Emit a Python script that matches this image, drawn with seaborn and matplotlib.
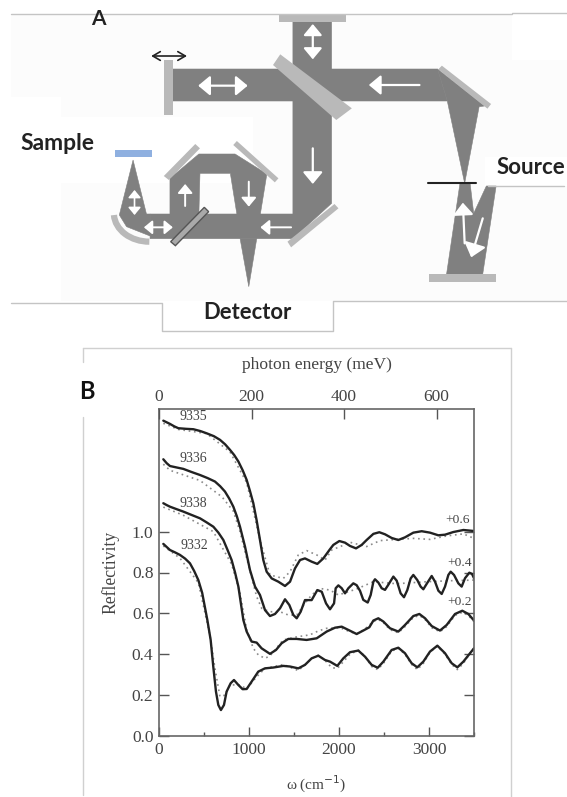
import numpy as np
import pandas as pd
import matplotlib
matplotlib.use('Agg')
import matplotlib.pyplot as plt
import seaborn as sns
from matplotlib.patches import Polygon, Rectangle, FancyArrowPatch, Arc
from matplotlib.lines import Line2D

# --- reflectivity curves (with the offsets already added) ---
x_9335 = [48,85,122,170,215,300,382,460,530,610,678,735,789,835,882,930,974,1010,1048,1085,1122,1159,1196,1252,1326,1400,1456,1511,1567,1622,1696,1759,1826,1900,1937,2004,2067,2122,2189,2252,2307,2382,2448,2511,2585,2659,2733,2826,2919,3011,3104,3178,3270,3382,3500]
y_9335 = [1.543,1.535,1.527,1.515,1.506,1.503,1.501,1.492,1.481,1.467,1.449,1.427,1.400,1.375,1.343,1.300,1.253,1.200,1.139,1.055,.959,.861,.804,.771,.755,.734,.755,.820,.861,.869,.853,.842,.869,.914,.935,.954,.946,.930,.918,.935,.959,.989,.997,.987,.969,.959,.972,.995,1.002,.995,.982,.985,.998,1.008,1.003]
x_9336 = [48,85,122,195,270,360,456,540,622,680,733,780,826,865,900,956,1011,1067,1122,1178,1233,1289,1345,1400,1448,1493,1530,1574,1622,1696,1759,1808,1856,1900,1945,1963,1993,2030,2067,2104,2159,2196,2233,2270,2319,2352,2382,2400,2437,2474,2511,2548,2604,2641,2685,2722,2759,2796,2826,2870,2907,2937,2982,3030,3067,3104,3141,3178,3215,3241,3278,3326,3363,3400,3448,3478,3500]
y_9336 = [1.354,1.335,1.321,1.314,1.307,1.292,1.277,1.262,1.245,1.222,1.196,1.162,1.122,1.075,1.024,.926,.812,.731,.690,.616,.587,.597,.625,.669,.641,.592,.576,.608,.665,.665,.714,.706,.649,.620,.649,.723,.737,.723,.698,.723,.747,.738,.711,.666,.653,.690,.755,.767,.751,.723,.715,.740,.780,.760,.698,.679,.714,.771,.788,.763,.731,.718,.750,.783,.755,.711,.695,.731,.788,.804,.788,.747,.731,.772,.799,.793,.772]
x_9338 = [48,85,122,195,270,360,456,530,604,660,715,760,807,845,882,937,974,1029,1085,1140,1233,1300,1363,1437,1529,1640,1752,1863,1956,2030,2104,2196,2270,2337,2382,2437,2493,2567,2659,2733,2826,2893,2956,3030,3122,3196,3289,3370,3437,3500]
y_9338 = [1.139,1.130,1.122,1.110,1.098,1.082,1.065,1.045,1.024,.995,.959,.912,.861,.800,.731,.568,.511,.462,.457,.429,.402,.421,.454,.475,.475,.470,.478,.511,.530,.535,.519,.499,.516,.532,.565,.576,.560,.527,.511,.543,.587,.597,.576,.538,.516,.543,.597,.613,.597,.565]
x_9332 = [48,85,122,180,233,290,344,390,437,480,537,574,603,633,659,688,722,751,796,833,881,929,974,1029,1103,1177,1270,1381,1455,1548,1622,1696,1770,1844,1900,1981,2048,2122,2215,2289,2363,2430,2493,2585,2659,2733,2807,2870,2937,3011,3093,3178,3252,3315,3382,3456,3500]
y_9332 = [.940,.925,.910,.898,.886,.868,.845,.808,.763,.700,.568,.470,.340,.217,.152,.127,.152,.217,.258,.274,.250,.229,.230,.266,.315,.331,.335,.343,.340,.331,.348,.380,.393,.372,.364,.343,.380,.410,.418,.388,.348,.334,.364,.421,.432,.405,.356,.336,.364,.413,.442,.405,.356,.336,.364,.405,.429]

# --- fits (dotted) ---
fx_9335 = [48,215,530,789,974,1122,1233,1381,1456,1548,1641,1752,1845,1919,2030,2122,2307,2456,2641,2826,3011,3196,3382,3500]
fy_9335 = [1.53,1.50,1.48,1.39,1.24,.96,.788,.771,.804,.886,.907,.886,.861,.91,.93,.948,.927,.956,.962,.967,.962,.979,.989,.967]
fx_9336 = [48,122,456,700,826,900,974,1085,1141,1233,1345,1437,1530,1622,1696,1789,1900,1993,2200,2382,2640,2982,3250,3500]
fy_9336 = [1.33,1.30,1.25,1.17,1.10,1.00,.87,.682,.625,.608,.608,.592,.592,.649,.690,.722,.714,.690,.72,.755,.745,.755,.76,.763]
fx_9338 = [48,270,604,807,900,974,1048,1103,1177,1233,1380,1530,1677,1770,1863,2011,2122,2200,2290,2382,2437,2493,2567,2659,2733,2826,2893,2956,3030,3122,3196,3289,3370,3437,3500]
fy_9338 = [1.12,1.08,1.00,.84,.70,.52,.429,.397,.380,.392,.47,.485,.495,.514,.527,.53,.51,.50,.525,.56,.57,.555,.52,.505,.535,.58,.59,.57,.53,.51,.535,.59,.605,.59,.56]
fx_9332 = [48,233,437,567,622,677,733,789,900,974,1085,1177,1381,1548,1700,1770,1844,1918,1981,2122,2215,2289,2363,2430,2493,2585,2659,2733,2807,2870,2937,3011,3093,3178,3252,3315,3382,3456,3500]
fy_9332 = [.93,.87,.75,.49,.33,.193,.20,.25,.25,.23,.29,.33,.35,.32,.38,.395,.37,.335,.33,.40,.42,.39,.34,.325,.355,.415,.43,.40,.35,.325,.355,.41,.44,.40,.35,.325,.355,.405,.43]

curve_labels = ['9335', '9336', '9338', '9332']
offset_labels = ['+0.6', '+0.4', '+0.2']
W, H = 567, 797

sns.set_style('white')
plt.rcParams['font.family'] = ['Liberation Serif', 'DejaVu Serif']
fig = plt.figure(figsize=(W / 100, H / 100), dpi=100)

# --- panel B ---
ax = fig.add_axes([159 / W, 1 - 736 / H, 315 / W, 327 / H])
for xs, ys in [(fx_9335, fy_9335), (fx_9336, fy_9336), (fx_9338, fy_9338), (fx_9332, fy_9332)]:
    sns.lineplot(x=xs, y=ys, ax=ax, color='#8a8a8a', lw=1.2, ls=(0, (1, 2.2)), errorbar=None, sort=False)
for xs, ys in [(x_9335, y_9335), (x_9336, y_9336), (x_9338, y_9338), (x_9332, y_9332)]:
    sns.lineplot(x=xs, y=ys, ax=ax, color='#222222', lw=1.7, errorbar=None, sort=False, solid_joinstyle='round')

ax.set_xlim(0, 3500)
ax.set_ylim(0, 1.6)
ax.set_xticks([0, 1000, 2000, 3000])
ax.set_xticks([500, 1500, 2500, 3500], minor=True)
ax.set_yticks([0, .2, .4, .6, .8, 1.0])
ax.tick_params(axis='x', which='major', direction='in', length=6.5, width=1, color='#555555', labelcolor='#444444', labelsize=12.5, pad=4)
ax.tick_params(axis='x', which='minor', direction='in', length=3, width=1, color='#555555')
ax.tick_params(axis='y', direction='in', length=7, width=1, color='#555555', labelcolor='#444444', labelsize=12.5, right=True, left=True, pad=4)
ax.set_xlabel('ω (cm$^{-1}$)', fontsize=11, color='#444444', labelpad=12)
ax.set_ylabel('Reflectivity', fontsize=12.7, color='#444444', labelpad=9)
for s in ax.spines.values():
    s.set_color('#666666')
    s.set_linewidth(1.2)

top = ax.twiny()
top.set_xlim(0, 681)
top.set_xticks([0, 200, 400, 600])
top.tick_params(axis='x', direction='in', length=7, width=1, color='#555555', labelcolor='#444444', labelsize=12.5, pad=3)
top.set_xlabel('photon energy (meV)', fontsize=12.6, color='#444444', labelpad=14)
for s in top.spines.values():
    s.set_visible(False)

for name, xp, yp in zip(curve_labels, [233, 225, 233, 240], [1.561, 1.356, 1.14, .93]):
    ax.text(xp, yp, name, fontsize=10, color='#444444', va='center')
for name, xp, yp in zip(offset_labels, [3178, 3200, 3200], [1.057, .847, .656]):
    ax.text(xp, yp, name, fontsize=9.7, color='#444444', va='center')

# --- panel A, overlay in zoomed picture units ---
ov = fig.add_axes([0, 0, 1, 1], zorder=5)
ov.set_xlim(0, 1568)
ov.set_ylim(2391, 0)
ov.axis('off')
ov.patch.set_alpha(0)

BEAM = '#808080'
MIRROR = '#b9b9b9'
ov.add_patch(Rectangle((30, 43), 1538, 860, fc='#fcfcfc', ec='none'))
ov.add_patch(Rectangle((1415, 43), 153, 137, fc='white', ec='none'))
ov.add_patch(Rectangle((0, 290), 170, 620, fc='white', ec='none'))
ov.add_patch(Rectangle((170, 350), 530, 200, fc='white', ec='none'))
ov.add_patch(Rectangle((1340, 470), 228, 88, fc='white', ec='none'))

for pts in [[(30, 43), (1415, 43)], [(1415, 40), (1568, 40)],
            [(30, 908), (447, 908), (447, 993), (922, 993), (922, 902), (1568, 902)],
            [(1350, 558), (1560, 558)]]:
    p = np.array(pts)
    ov.plot(p[:, 0], p[:, 1], color='#c4c4c4', lw=1)

beams = [
    [(478, 207), (1210, 207), (1237, 303), (478, 303)],
    [(810, 65), (917, 65), (917, 610), (810, 716), (415, 716), (415, 642), (810, 642)],
    [(1210, 207), (1340, 318), (1325, 320), (1285, 550), (1237, 303)],
    [(1272, 550), (1300, 550), (1310, 640), (1345, 558), (1372, 558), (1335, 822), (1235, 822)],
    [(470, 642), (470, 535), (550, 462), (650, 462), (738, 522), (720, 642), (655, 642), (637, 520), (553, 520), (550, 642)],
    [(664, 716), (710, 716), (688, 860)],
    [(368, 480), (330, 645), (350, 680), (415, 708), (415, 642), (405, 642)],
]
for b in beams:
    ov.add_patch(Polygon(b, closed=True, fc=BEAM, ec=BEAM, lw=0.4))

mirrors = [
    [(772, 45), (957, 45), (957, 65), (772, 65)],
    [(453, 180), (478, 180), (478, 345), (453, 345)],
    [(775, 163), (973, 325), (930, 360), (755, 195)],
    [(1222, 197), (1358, 312), (1348, 326), (1212, 208)],
    [(1185, 822), (1372, 822), (1372, 845), (1185, 845)],
    [(925, 612), (936, 625), (805, 742), (795, 725)],
    [(540, 432), (553, 445), (467, 540), (453, 528)],
    [(655, 423), (770, 535), (760, 547), (645, 435)],
]
for m in mirrors:
    ov.add_patch(Polygon(m, closed=True, fc=MIRROR, ec='none'))
ov.add_patch(Polygon([(565, 622), (577, 635), (485, 737), (472, 725)], closed=True, fc='#a9a9a9', ec='#555555', lw=1))
ov.add_patch(Rectangle((318, 450), 102, 22, fc='#8fb0e0', ec='none'))
ov.add_patch(Arc((413, 640), 196, 170, theta1=90, theta2=177, color=MIRROR, lw=4.5))
ov.plot([1183, 1315], [550, 550], color='#222222', lw=1.5)

def arrow(a, b, style='-|>', color='white', lw=1.6, scale=9):
    ov.add_patch(FancyArrowPatch(a, b, arrowstyle=f'{style},head_length=0.9,head_width=0.75',
                                 mutation_scale=scale, color=color, lw=lw, shrinkA=0, shrinkB=0))

arrow((865, 72), (865, 178), '<|-|>', scale=7.5)
arrow((548, 257), (685, 257), '<|-|>', scale=8)
arrow((1160, 255), (1020, 255), scale=8)
arrow((865, 445), (865, 552), scale=8)
arrow((688, 545), (688, 620), scale=6, lw=1.4)
arrow((512, 618), (512, 552), scale=6, lw=1.4)
arrow((805, 682), (720, 682), scale=6, lw=1.4)
arrow((398, 682), (478, 682), '<|-|>', scale=5.5, lw=1.4)
arrow((372, 570), (372, 645), '<|-|>', scale=5, lw=1.2)
arrow((1285, 730), (1280, 608), scale=8)
arrow((1335, 655), (1303, 772), scale=9)
ov.add_patch(FancyArrowPatch((418, 168), (517, 168), arrowstyle='<->,head_length=0.6,head_width=0.35',
                             mutation_scale=9, color='#222222', lw=1.2, shrinkA=0, shrinkB=0))

LAB = ['Lato', 'DejaVu Sans']
ov.text(272, 57, 'A', family=LAB, fontweight='bold', fontsize=15, ha='center', va='center', color='#222222')
ov.text(158, 432, 'Sample', family=LAB, fontweight='bold', fontsize=16.5, ha='center', va='center', color='#222222')
ov.text(1468, 502, 'Source', family=LAB, fontweight='bold', fontsize=16, ha='center', va='center', color='#222222')
ov.text(683, 938, 'Detector', family=LAB, fontweight='bold', fontsize=15.8, ha='center', va='center', color='#222222')
ov.text(240, 1175, 'B', family=LAB, fontweight='bold', fontsize=17, ha='center', va='center', color='#111111')

# frame round panel B
for (x0, y0), (x1, y1) in [((83, 348), (83, 362)), ((83, 417), (83, 795)), ((83, 348), (511, 348)), ((511, 348), (511, 797))]:
    fig.add_artist(Line2D([x0 / W, x1 / W], [1 - y0 / H, 1 - y1 / H], color='#d0d0d0', lw=1))

fig.savefig('out.png', dpi=100)
